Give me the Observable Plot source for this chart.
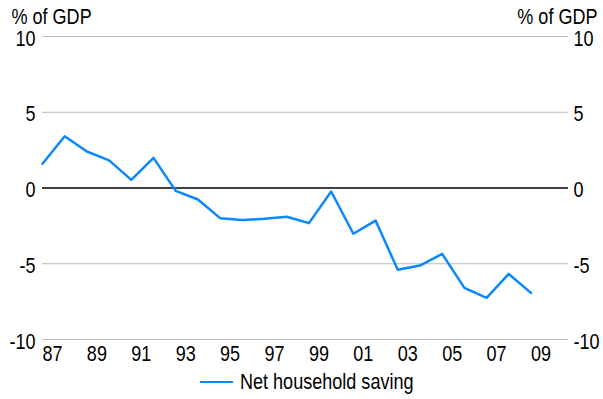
<!DOCTYPE html>
<html>
<head>
<meta charset="utf-8">
<script src="https://cdn.jsdelivr.net/npm/d3@7"></script>
<script src="https://cdn.jsdelivr.net/npm/@observablehq/plot@0.6"></script>
<style>
  html, body { margin: 0; padding: 0; background: #fff; }
  #chart { width: 603px; }
  .legend { display: flex; justify-content: flex-start; align-items: center; height: 34px; padding-left: 200px;
    font-family: 'Liberation Sans', Arial, sans-serif; font-size: 22px; color: #000; white-space: nowrap; }
  .legend .swatch { width: 33px; height: 0; border-top: 2.5px solid #0a88ff; margin-right: 7px; }
  .legend .label { display: inline-block; transform: scaleX(0.82); transform-origin: left center; }
</style>
</head>
<body>
<div id="chart"></div>
<script>
const years = [1987,1988,1989,1990,1991,1992,1993,1994,1995,1996,1997,1998,1999,2000,2001,2002,2003,2004,2005,2006,2007,2008,2009];
const saving = [1.60,3.42,2.41,1.82,0.54,1.99,-0.19,-0.76,-1.99,-2.12,-2.03,-1.90,-2.32,-0.23,-3.02,-2.15,-5.40,-5.12,-4.35,-6.59,-7.25,-5.67,-6.92];
const yTicks = [-10,-5,0,5,10];
const xTicks = [1987,1989,1991,1993,1995,1997,1999,2001,2003,2005,2007,2009];
const seriesName = "Net household saving";
const unitLabel = "% of GDP";
const lineColor = "#0a88ff";

const data = years.map((year, i) => ({year, value: saving[i]}));

const plot = Plot.plot({
  width: 603,
  height: 365,
  marginLeft: 42,
  marginRight: 35,
  marginTop: 36,
  marginBottom: 26,
  style: {fontFamily: "'Liberation Sans', Arial, sans-serif", fontSize: "22px", color: "#000", overflow: "visible"},
  x: {domain: [1987, 2010.69]},
  y: {domain: [-10, 10]},
  marks: [
    Plot.ruleY(yTicks.filter(d => d !== 0), {stroke: "#b8b8b8", strokeWidth: 1}),
    Plot.ruleY([0], {stroke: "#000", strokeWidth: 1.3}),
    Plot.axisY({ticks: yTicks, anchor: "left", tickSize: 0, tickPadding: 7, tickFormat: d => String(d), label: null, dy: 2}),
    Plot.axisY({ticks: yTicks, anchor: "right", tickSize: 0, tickPadding: 5, tickFormat: d => String(d), label: null, dy: 2}),
    Plot.axisX({ticks: xTicks, tickSize: 0, tickPadding: 6, tickFormat: d => String(d % 100).padStart(2, "0"), dx: 10, label: null}),
    Plot.line(data, {x: "year", y: "value", stroke: lineColor, strokeWidth: 2.5}),
    Plot.text([unitLabel], {frameAnchor: "top-left", textAnchor: "start", lineAnchor: "bottom", dx: -31, dy: -13}),
    Plot.text([unitLabel], {frameAnchor: "top-right", textAnchor: "end", lineAnchor: "bottom", dx: 29, dy: -13})
  ]
});

// Narrow the glyphs horizontally (Arial Narrow look) around each text's anchor
plot.querySelectorAll("text").forEach(t => {
  const x = parseFloat(t.getAttribute("x") || "0");
  const tr = t.getAttribute("transform") || "";
  t.setAttribute("transform", `${tr} translate(${x},0) scale(0.82,1) translate(${-x},0)`);
});

document.getElementById("chart").appendChild(plot);

const legend = document.createElement("div");
legend.className = "legend";
legend.innerHTML = `<span class="swatch"></span><span class="label">${seriesName}</span>`;
document.getElementById("chart").appendChild(legend);
</script>
</body>
</html>
